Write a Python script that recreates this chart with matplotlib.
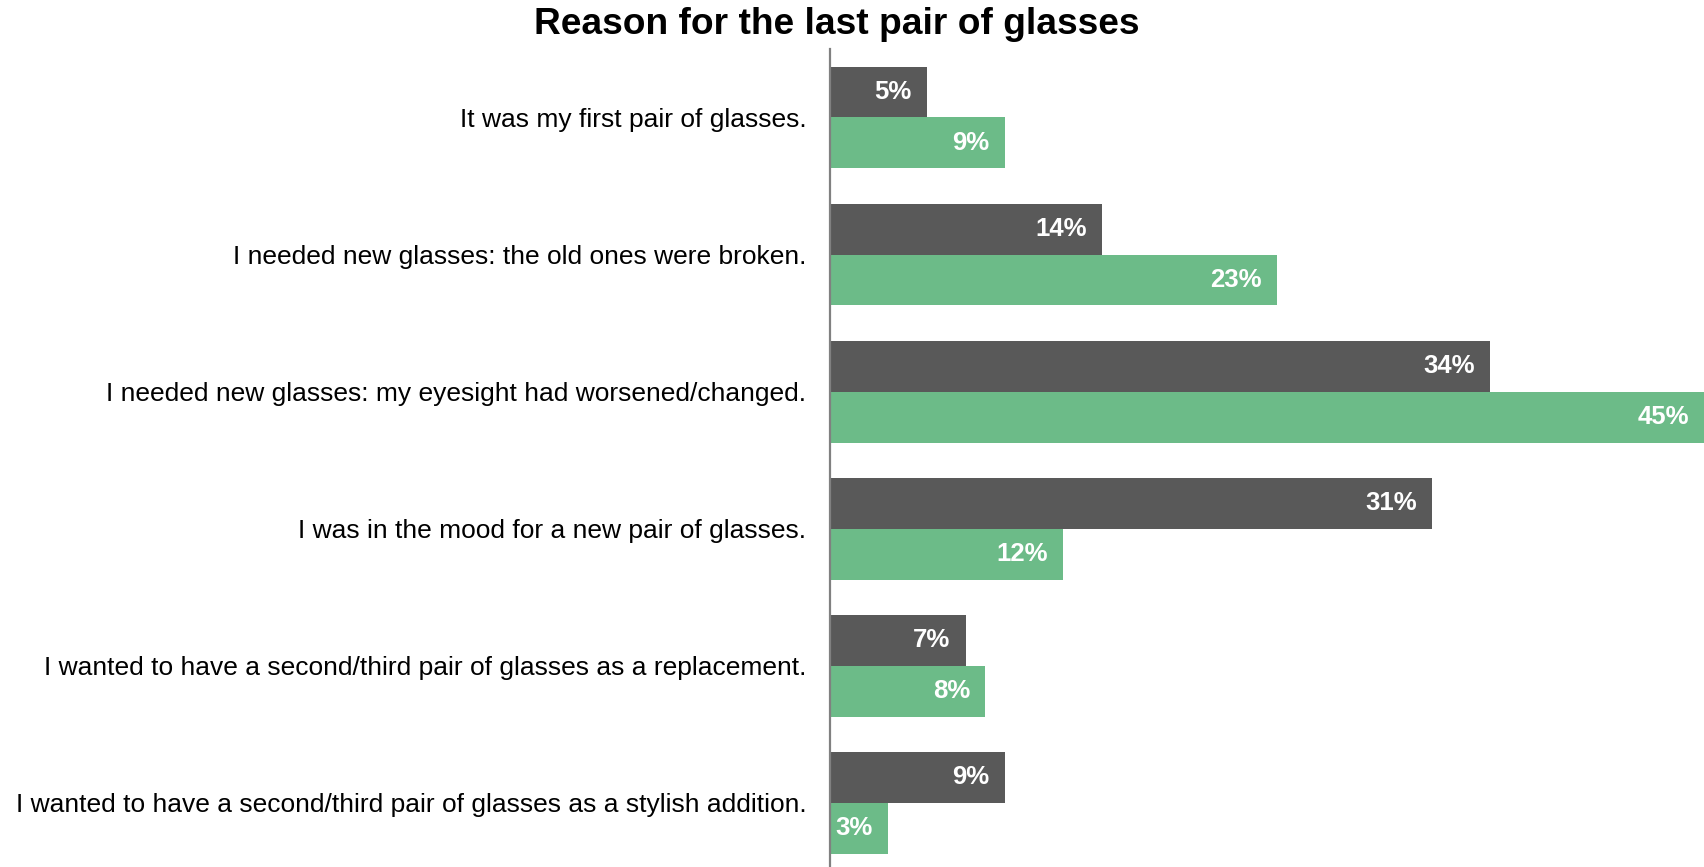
import matplotlib
matplotlib.use("Agg")
import matplotlib.pyplot as plt
import numpy as np

plt.rcParams["font.family"] = ["Liberation Sans", "DejaVu Sans"]

reasons = [
    "It was my first pair of glasses.",
    "I needed new glasses: the old ones were broken.",
    "I needed new glasses: my eyesight had worsened/changed.",
    "I was in the mood for a new pair of glasses.",
    "I wanted to have a second/third pair of glasses as a replacement.",
    "I wanted to have a second/third pair of glasses as a stylish addition.",
]
series_dark = [5, 14, 34, 31, 7, 9]
series_green = [9, 23, 45, 12, 8, 3]

DARK = "#595959"
GREEN = "#6cbb88"

fig = plt.figure(figsize=(17.04, 8.67), dpi=100)
ax = fig.add_axes([0.487, 0.0, 0.513, 0.9435])

y = np.arange(len(reasons))
h = 0.372
bars_dark = ax.barh(y - h / 2, series_dark, height=h, color=DARK)
bars_green = ax.barh(y + h / 2, series_green, height=h, color=GREEN)

for bars, vals in ((bars_dark, series_dark), (bars_green, series_green)):
    for b, v in zip(bars, vals):
        ax.annotate(f"{v}%", (v, b.get_y() + b.get_height() / 2),
                    xytext=(-11, 0), textcoords="offset points",
                    ha="right", va="center", color="white",
                    fontsize=18.5, fontweight="bold")

ax.set_xlim(0, 45)
ax.set_ylim(5.47, -0.5)
ax.set_yticks(y)
ax.set_yticklabels(reasons, fontsize=19)
ax.tick_params(axis="y", length=0, pad=17)
ax.set_xticks([])
for s in ("top", "right", "bottom"):
    ax.spines[s].set_visible(False)
ax.spines["left"].set_color("#808080")
ax.spines["left"].set_linewidth(1.6)

fig.text(0.491, 0.972, "Reason for the last pair of glasses",
         ha="center", va="center", fontsize=26.7, fontweight="bold")

fig.savefig("out.png", dpi=100)
